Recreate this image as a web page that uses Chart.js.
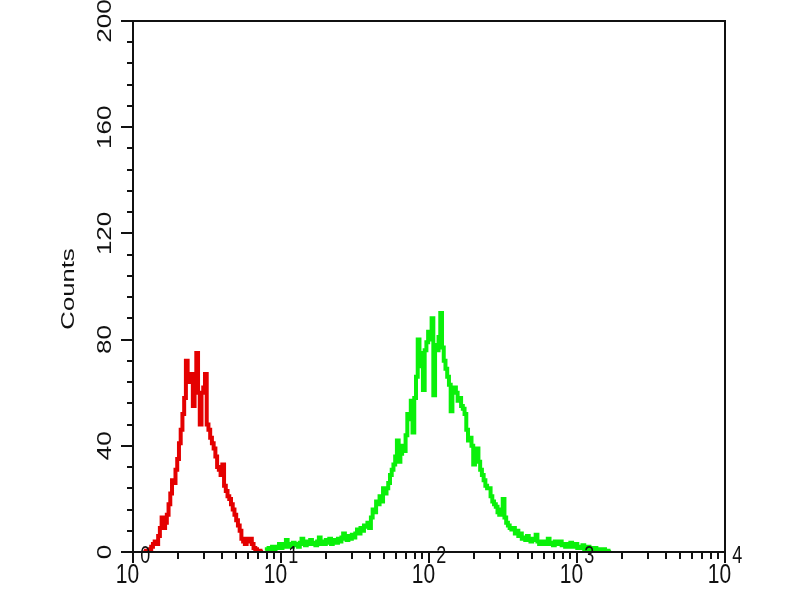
<!DOCTYPE html>
<html>
<head>
<meta charset="utf-8">
<script src="https://cdn.jsdelivr.net/npm/chart.js@4"></script>
<style>
  body { margin: 0; background: #fff; }
  #wrap { width: 800px; height: 600px; }
</style>
</head>
<body>
<div id="wrap"><canvas id="myChartHisto" width="800" height="600"></canvas></div>
<script>
// histogram channels: 256 per decade, one value every 3 channels
const channelsPerDecade = 256;
const channelStep = 3;
const redFirstChannel = 18;
const greenFirstChannel = 230;

const redCounts = [
  0, 0, 0.5, 0.5, 1, 2, 3, 4, 3, 6,
  9, 13, 9, 11, 14, 18, 22, 27, 26, 31,
  35, 41, 46, 52, 58, 72, 66, 64, 67, 55,
  62, 75, 60, 48, 60, 62, 67, 48, 46, 43,
  41, 39, 36, 32, 31, 29, 33, 25, 23, 21,
  20, 18, 16, 14, 12, 10, 8, 5, 4, 3,
  5, 4, 5, 3, 1.5, 1, 0.5, 0.5, 0, 0
];

const greenCounts = [
  0.5, 1, 1.5, 1, 2, 1, 2, 1.5, 3, 1.5,
  2, 3, 4.5, 2, 3, 2, 3.5, 2.5, 3, 2,
  3.5, 5, 3, 2.5, 4, 3, 4.5, 3, 3.5, 2.5,
  4, 5.5, 3, 4, 3, 4.5, 3.5, 5, 3, 4,
  4.5, 3.5, 5, 4, 5.5, 7, 5, 4.5, 6, 5,
  6.5, 5.5, 7, 8.5, 7, 9, 8, 10, 9.5, 11,
  9, 13, 16, 15, 19, 18, 21, 19, 24, 22,
  24, 26, 29, 31, 33, 36, 42, 34, 37, 40,
  38, 44, 52, 50, 57, 45, 58, 66, 80, 75,
  70, 61, 76, 79, 83, 80, 88, 59, 78, 76,
  81, 90, 77, 72, 69, 66, 63, 53, 60, 62,
  60, 57, 58, 55, 54, 52, 46, 42, 43, 40,
  33, 38, 39, 34, 31, 29, 27, 25, 24, 24,
  21, 19, 18, 17, 15, 14, 16, 20, 13, 11,
  10, 9, 8.5, 9, 7, 8, 6, 7, 5, 5.5,
  4.5, 6, 5, 4, 5, 4.5, 6.5, 4, 3, 4,
  3.5, 3, 4, 5, 3, 3.5, 2.5, 4, 3, 3.5,
  4, 2.5, 3, 2, 3, 2, 3.5, 2, 2.5, 3,
  1.5, 2, 1.5, 2.5, 1, 1.5, 2, 1, 1.5, 1,
  1.5, 0.5, 1, 1, 0.5, 1, 0.5, 0.5, 0, 0
];

const yTickLabels = [0, 40, 80, 120, 160, 200];
const yMinorStep = 8;
const xDecades = [0, 1, 2, 3, 4];

function toPoints(firstChannel, counts) {
  return counts.map(function (c, i) {
    return { x: Math.pow(10, (firstChannel + i * channelStep) / channelsPerDecade), y: c };
  });
}

const FONT = '"Liberation Sans", Arial, sans-serif';

// draws frame, tick marks and axis texts from the chart's own scales
const facsAxes = {
  id: 'facsAxes',
  afterDraw(chart) {
    const ctx = chart.ctx;
    const area = chart.chartArea;
    const xs = chart.scales.x;
    const ys = chart.scales.y;
    ctx.save();
    ctx.strokeStyle = '#111';
    ctx.fillStyle = '#111';
    ctx.lineWidth = 2;
    ctx.strokeRect(area.left, area.top, area.right - area.left, area.bottom - area.top);

    // y ticks
    ctx.beginPath();
    for (let v = 0; v <= 200; v += yMinorStep) {
      const py = Math.round(ys.getPixelForValue(v));
      const len = (v % 40 === 0) ? 12 : 6;
      ctx.moveTo(area.left - len, py);
      ctx.lineTo(area.left, py);
    }
    // x ticks
    for (let d = 0; d < 4; d++) {
      for (let m = 1; m <= 9; m++) {
        const px = Math.round(xs.getPixelForValue(m * Math.pow(10, d)));
        const len = (m === 1) ? 11 : 7;
        ctx.moveTo(px, area.bottom);
        ctx.lineTo(px, area.bottom + len);
      }
    }
    const pEnd = Math.round(xs.getPixelForValue(10000));
    ctx.moveTo(pEnd, area.bottom);
    ctx.lineTo(pEnd, area.bottom + 11);
    ctx.stroke();

    // y labels, rotated
    ctx.font = '20px ' + FONT;
    ctx.textAlign = 'center';
    ctx.textBaseline = 'middle';
    yTickLabels.forEach(function (v) {
      const py = ys.getPixelForValue(v);
      ctx.save();
      ctx.translate(105, py);
      ctx.scale(1, 1.3);
      ctx.rotate(-Math.PI / 2);
      ctx.fillText(String(v), 0, 0);
      ctx.restore();
    });

    // axis title
    ctx.save();
    ctx.font = '19px ' + FONT;
    ctx.translate(69, 289);
    ctx.scale(1, 1.35);
    ctx.rotate(-Math.PI / 2);
    ctx.fillText('Counts', 0, 0);
    ctx.restore();

    // x labels 10^n
    ctx.textBaseline = 'alphabetic';
    ctx.textAlign = 'left';
    xDecades.forEach(function (d) {
      const px = xs.getPixelForValue(Math.pow(10, d));
      ctx.font = '21px ' + FONT;
      const wBase = ctx.measureText('10').width;
      ctx.font = '18px ' + FONT;
      const wExp = ctx.measureText(String(d)).width;
      const x0 = px - (wBase + wExp + 1) / 2;
      ctx.save();
      ctx.translate(x0, 583);
      ctx.scale(1, 1.35);
      ctx.font = '21px ' + FONT;
      ctx.fillText('10', 0, 0);
      ctx.font = '18px ' + FONT;
      ctx.fillText(String(d), wBase + 1, -14.5);
      ctx.restore();
    });
    ctx.restore();
  }
};

const ctx = document.getElementById('myChartHisto');

new Chart(ctx, {
  type: 'line',
  data: {
    datasets: [
      {
        label: 'Control',
        data: toPoints(redFirstChannel, redCounts),
        borderColor: 'rgb(228,0,0)',
        borderWidth: 4,
        pointRadius: 0,
        stepped: 'middle',
        fill: false
      },
      {
        label: 'Sample',
        data: toPoints(greenFirstChannel, greenCounts),
        borderColor: 'rgb(10,240,10)',
        borderWidth: 4,
        pointRadius: 0,
        stepped: 'middle',
        fill: false
      }
    ]
  },
  options: {
    responsive: false,
    animation: false,
    layout: { padding: { left: 133, right: 75, top: 21, bottom: 48 } },
    plugins: { legend: { display: false }, tooltip: { enabled: false } },
    scales: {
      x: { type: 'logarithmic', min: 1, max: 10000, display: false },
      y: { type: 'linear', min: 0, max: 200, display: false }
    }
  },
  plugins: [facsAxes]
});
</script>
</body>
</html>
